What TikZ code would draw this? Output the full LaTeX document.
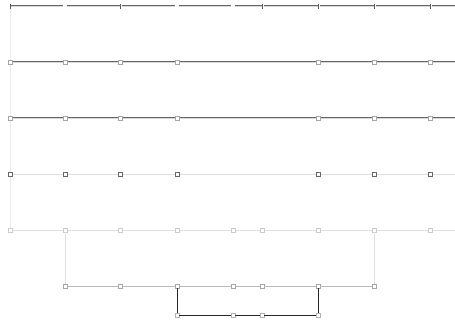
\documentclass[tikz,border=0pt]{standalone}
\begin{document}
\begin{tikzpicture}[x=1pt,y=-1pt,
  mk/.style={draw=gray!70,fill=white,line width=0.4pt,minimum size=4pt,inner sep=0pt,rectangle},
  dbl/.style={draw=gray!80!black,double=gray!30,double distance=0.7pt,line width=0.55pt},
  lite/.style={draw=gray!25,line width=0.8pt},
  mid/.style={draw=gray!55,line width=0.6pt},
  dark/.style={draw=black!85,line width=0.6pt}]
\useasboundingbox (0,0) rectangle (455,324);
% vertical trunk
\coordinate (t0) at (10,6);
\coordinate (t5) at (10,230);
\draw[draw=gray!15,line width=0.8pt] (t0) -- (t5);
% row 1
\foreach \n/\x in {a/10,b/65,c/120,d/177,e/233,f/262,g/318,h/374,i/430}{\coordinate (r1\n) at (\x,6);}
\coordinate (r1end) at (455,6);
\draw[dbl] (r1a) -- ([xshift=-2pt]r1b);
\draw[dbl] ([xshift=2pt]r1b) -- (r1c);
\draw[dbl] ([xshift=2pt]r1c) -- ([xshift=-2pt]r1d);
\draw[dbl] ([xshift=2pt]r1d) -- ([xshift=-2pt]r1e);
\draw[dbl] ([xshift=2pt]r1e) -- (r1f);
\draw[dbl] ([xshift=2pt]r1f) -- (r1g);
\draw[dbl] ([xshift=2pt]r1g) -- (r1h);
\draw[dbl] ([xshift=2pt]r1h) -- (r1i);
\draw[dbl] ([xshift=2pt]r1i) -- (r1end);
\foreach \n in {a,c,f,g,h,i}{\draw[gray!70!black,line width=0.6pt] ([yshift=-2.5pt]r1\n) -- ([yshift=2.5pt]r1\n);}
% rows 2 and 3
\foreach \r/\y in {2/62,3/118}{
  \coordinate (r\r end) at (455,\y);
  \draw[dbl] (10,\y) -- (r\r end);
  \foreach \n/\x in {a/10,b/65,c/120,d/177,g/318,h/374,i/430}{\node[mk] (r\r\n) at (\x,\y) {};}
}
% row 4
\coordinate (r4end) at (455,174);
\coordinate (r4start) at (10,174);
\draw[lite] (r4start) -- (r4end);
\foreach \n/\x in {a/10,b/65,c/120,d/177,g/318,h/374,i/430}{\node[mk,draw=gray!80!black,minimum size=3.5pt] (r4\n) at (\x,174) {};}
% row 5
\coordinate (r5end) at (455,230);
\coordinate (r5start) at (10,230);
\draw[lite] (r5start) -- (r5end);
\foreach \n/\x in {a/10,b/65,c/120,d/177,e/233,f/262,g/318,h/374,i/430}{\node[mk,draw=gray!40] (r5\n) at (\x,230) {};}
% row 6
\foreach \n/\x in {b/65,c/120,d/177,e/233,f/262,g/318,h/374}{\node[mk,draw=gray!70] (r6\n) at (\x,286) {};}
\draw[lite] (r5b) -- (r6b);
\draw[lite] (r5h) -- (r6h);
\draw[mid] (r6b) -- (r6c) -- (r6d) -- (r6e) -- (r6f) -- (r6g) -- (r6h);
% row 7
\foreach \n/\x in {d/177,e/233,f/262,g/318}{\node[mk,draw=gray!60] (r7\n) at (\x,315) {};}
\draw[dark] (r6d) -- (r7d) -- (r7e) -- (r7f) -- (r7g) -- (r6g);
\end{tikzpicture}
\end{document}
